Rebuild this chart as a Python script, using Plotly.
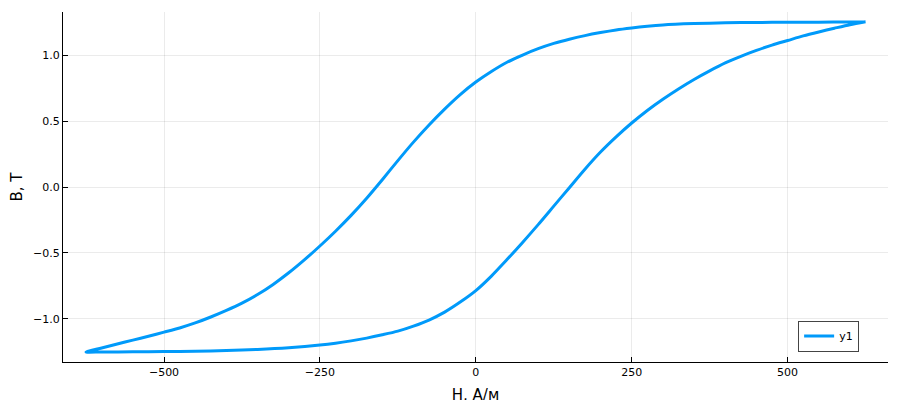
import plotly.graph_objects as go

# Descending branch (from +Hmax to -Hmax)
H_down = [625, 600, 550, 500, 450, 400, 350, 300, 275, 250, 225, 200, 175, 150,
          125, 100, 75, 50, 25, 0, -25, -50, -75, -100, -125, -150, -175, -200,
          -225, -250, -275, -300, -325, -350, -375, -400, -425, -450, -475, -500,
          -525, -550, -575, -600, -625]
B_down = [1.25, 1.25, 1.249, 1.248, 1.247, 1.244, 1.238, 1.228, 1.218, 1.205,
          1.19, 1.17, 1.147, 1.12, 1.088, 1.048, 1.0, 0.945, 0.875, 0.795, 0.70,
          0.59, 0.47, 0.34, 0.20, 0.055, -0.085, -0.215, -0.335, -0.447, -0.552,
          -0.65, -0.738, -0.815, -0.88, -0.935, -0.985, -1.03, -1.068, -1.10,
          -1.131, -1.16, -1.19, -1.22, -1.25]

# Ascending branch (from -Hmax to +Hmax)
H_up = [-625, -600, -550, -500, -450, -400, -350, -300, -250, -225, -200, -175,
        -150, -125, -100, -75, -50, -25, 0, 25, 50, 75, 100, 125, 150, 175, 200,
        225, 250, 275, 300, 325, 350, 375, 400, 425, 450, 475, 500, 525, 550,
        575, 600, 625]
B_up = [-1.252, -1.25, -1.249, -1.247, -1.244, -1.239, -1.231, -1.218, -1.198,
        -1.184, -1.166, -1.145, -1.12, -1.092, -1.054, -1.008, -0.948, -0.872,
        -0.785, -0.675, -0.55, -0.42, -0.285, -0.145, -0.005, 0.135, 0.265,
        0.38, 0.485, 0.58, 0.665, 0.743, 0.815, 0.88, 0.94, 0.99, 1.035, 1.075,
        1.11, 1.145, 1.175, 1.203, 1.23, 1.252]

H_all = H_down + H_up[1:]
B_all = B_down + B_up[1:]

x_ticks = [-500, -250, 0, 250, 500]
y_ticks = [-1.0, -0.5, 0.0, 0.5, 1.0]

line_color = "#009AFA"
font_family = "DejaVu Sans, Liberation Sans, sans-serif"

fig = go.Figure()
fig.add_trace(go.Scatter(
    x=H_all, y=B_all, mode="lines", name="y1",
    line=dict(color=line_color, width=3, shape="spline", smoothing=0.8),
))

axis_common = dict(
    showgrid=True, gridcolor="rgba(0,0,0,0.08)", gridwidth=1,
    zeroline=False, showline=True, linecolor="black", linewidth=1,
    ticks="inside", ticklen=5, tickcolor="black", mirror=False,
    automargin=False,
    tickfont=dict(size=11, color="black", family=font_family),
)

fig.update_layout(
    width=900, height=400,
    margin=dict(l=55, r=20, t=4, b=46),
    paper_bgcolor="white", plot_bgcolor="white",
    font=dict(family=font_family, color="black"),
    showlegend=True,
    legend=dict(
        x=0.965, y=0.03, xanchor="right", yanchor="bottom",
        bgcolor="white", bordercolor="#444444", borderwidth=1,
        font=dict(size=11, color="black"),
    ),
    xaxis=dict(
        range=[-662, 661], tickvals=x_ticks,
        title=dict(text="H, А/м", font=dict(size=15), standoff=11),
        **axis_common,
    ),
    yaxis=dict(
        range=[-1.326, 1.326], tickvals=y_ticks,
        tickformat=".1f",
        title=dict(text="B, Т", font=dict(size=15), standoff=30),
        **axis_common,
    ),
)

fig.write_html("out.html")
